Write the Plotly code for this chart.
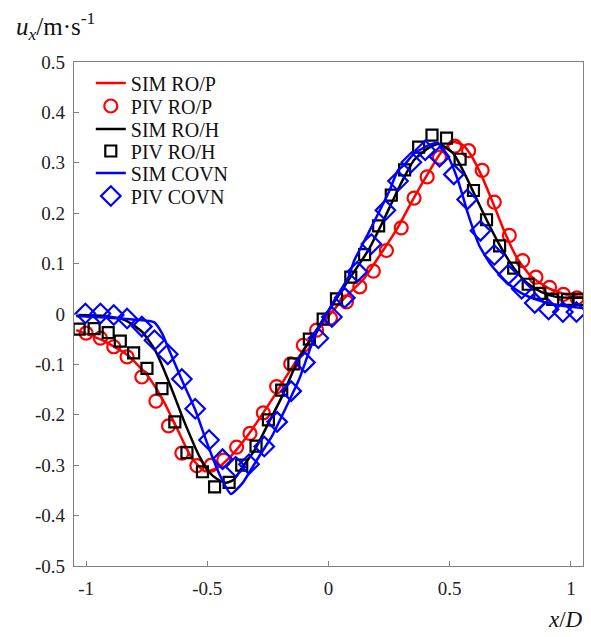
import plotly.graph_objects as go

# ---------------- data ----------------
# SIM RO/P (red line)
sim_rop_x = [-1.041, -0.934, -0.831, -0.749, -0.687, -0.626, -0.564, -0.510, -0.461, -0.399,
             -0.317, -0.235, -0.152, -0.070, 0.000, 0.074, 0.144, 0.218, 0.280, 0.354,
             0.412, 0.465, 0.514, 0.556, 0.588, 0.630, 0.679, 0.728, 0.778, 0.835,
             0.905, 0.984, 1.050]
sim_rop_y = [-0.032, -0.052, -0.081, -0.121, -0.167, -0.226, -0.286, -0.312, -0.306, -0.280,
             -0.230, -0.171, -0.107, -0.048, -0.004, 0.036, 0.069, 0.121, 0.167, 0.232,
             0.280, 0.321, 0.341, 0.335, 0.315, 0.276, 0.220, 0.161, 0.111, 0.075,
             0.052, 0.038, 0.034]

# PIV RO/P (red circles)
piv_rop_x = [-1.000, -0.941, -0.886, -0.831, -0.770, -0.712, -0.660, -0.605, -0.543, -0.484,
             -0.432, -0.379, -0.324, -0.269, -0.214, -0.156, -0.104, -0.049, 0.008, 0.074,
             0.129, 0.185, 0.239, 0.300, 0.353, 0.407, 0.458, 0.521, 0.578, 0.634,
             0.684, 0.746, 0.801, 0.856, 0.912, 0.969, 1.025]
piv_rop_y = [-0.038, -0.048, -0.065, -0.085, -0.125, -0.173, -0.222, -0.276, -0.301, -0.300,
             -0.290, -0.264, -0.237, -0.196, -0.144, -0.099, -0.062, -0.032, -0.008, 0.024,
             0.054, 0.085, 0.126, 0.171, 0.230, 0.272, 0.311, 0.333, 0.324, 0.285,
             0.222, 0.156, 0.106, 0.073, 0.053, 0.039, 0.032]

# SIM RO/H (black line)
sim_roh_x = [-1.041, -0.922, -0.840, -0.770, -0.716, -0.675, -0.634, -0.593, -0.531, -0.490,
             -0.461, -0.424, -0.391, -0.358, -0.305, -0.247, -0.193, -0.123, -0.016, 0.082,
             0.165, 0.218, 0.300, 0.354, 0.412, 0.457, 0.514, 0.560, 0.617, 0.654,
             0.708, 0.765, 0.823, 0.877, 0.938, 1.050]
sim_roh_y = [-0.002, -0.004, -0.012, -0.035, -0.071, -0.115, -0.165, -0.216, -0.284, -0.315,
             -0.327, -0.335, -0.329, -0.306, -0.270, -0.216, -0.165, -0.089, -0.006, 0.067,
             0.127, 0.177, 0.260, 0.306, 0.329, 0.337, 0.319, 0.280, 0.222, 0.185,
             0.135, 0.091, 0.060, 0.044, 0.034, 0.032]

# PIV RO/H (black squares)
piv_roh_x = [-1.029, -0.967, -0.909, -0.859, -0.804, -0.749, -0.687, -0.634, -0.584, -0.520,
             -0.470, -0.410, -0.358, -0.299, -0.248, -0.193, -0.143, -0.079, -0.022, 0.033,
             0.092, 0.149, 0.207, 0.259, 0.314, 0.372, 0.427, 0.487, 0.543, 0.598,
             0.652, 0.706, 0.764, 0.824, 0.872, 0.925, 0.986, 1.034]
piv_roh_y = [-0.030, -0.029, -0.037, -0.054, -0.077, -0.108, -0.148, -0.214, -0.275, -0.313,
             -0.343, -0.334, -0.300, -0.262, -0.210, -0.151, -0.099, -0.050, -0.010, 0.030,
             0.073, 0.118, 0.175, 0.236, 0.286, 0.331, 0.355, 0.349, 0.307, 0.245,
             0.187, 0.135, 0.091, 0.059, 0.041, 0.029, 0.029, 0.029]

# SIM COVN (blue line)
sim_covn_x = [-1.041, -0.852, -0.720, -0.687, -0.658, -0.605, -0.550, -0.498, -0.449, -0.403,
              -0.354, -0.296, -0.235, -0.173, -0.119, -0.058, 0.025, 0.082, 0.107, 0.165,
              0.247, 0.288, 0.313, 0.354, 0.424, 0.453, 0.494, 0.535, 0.576, 0.621,
              0.671, 0.737, 0.794, 0.860, 0.942, 1.050]
sim_covn_y = [-0.004, -0.009, -0.016, -0.038, -0.071, -0.131, -0.190, -0.260, -0.319, -0.357,
              -0.335, -0.290, -0.244, -0.183, -0.127, -0.046, 0.028, 0.073, 0.107, 0.161,
              0.240, 0.286, 0.296, 0.319, 0.337, 0.339, 0.312, 0.264, 0.198, 0.137,
              0.097, 0.062, 0.042, 0.028, 0.018, 0.012]

# PIV COVN (blue diamonds)
piv_covn_x = [-1.003, -0.941, -0.886, -0.831, -0.770, -0.718, -0.663, -0.605, -0.550, -0.493,
              -0.437, -0.383, -0.328, -0.265, -0.212, -0.154, -0.097, -0.042, 0.014, 0.067,
              0.119, 0.177, 0.235, 0.287, 0.342, 0.399, 0.458, 0.517, 0.572, 0.627,
              0.684, 0.741, 0.797, 0.851, 0.908, 0.967, 1.023]
piv_covn_y = [0.001, 0.001, -0.002, -0.009, -0.025, -0.052, -0.080, -0.129, -0.188, -0.250,
              -0.288, -0.303, -0.298, -0.263, -0.214, -0.153, -0.096, -0.048, -0.006, 0.032,
              0.084, 0.139, 0.206, 0.264, 0.301, 0.325, 0.312, 0.277, 0.227, 0.165,
              0.117, 0.078, 0.050, 0.022, 0.009, 0.004, 0.004]

series_names = ["SIM RO/P", "PIV RO/P", "SIM RO/H", "PIV RO/H", "SIM COVN", "PIV COVN"]

x_ticks = [-1, -0.5, 0, 0.5, 1]
x_tick_text = ["-1", "-0.5", "0", "0.5", "1"]
y_ticks = [0.5, 0.4, 0.3, 0.2, 0.1, 0, -0.1, -0.2, -0.3, -0.4, -0.5]
y_tick_text = ["0.5", "0.4", "0.3", "0.2", "0.1", "0", "-0.1", "-0.2", "-0.3", "-0.4", "-0.5"]

# ---------------- figure ----------------
RED, BLACK, BLUE = "#ff0000", "#000000", "#0000ff"
FONT = "Liberation Serif, Times New Roman, serif"
TXT = "#111111"

legend_ids = ["legend", "legend2", "legend3", "legend4", "legend5", "legend6"]

fig = go.Figure()
fig.add_trace(go.Scatter(x=sim_rop_x, y=sim_rop_y, mode="lines", name=series_names[0],
                         legend=legend_ids[0],
                         line=dict(color=RED, width=2.5, shape="spline", smoothing=0.6)))
fig.add_trace(go.Scatter(x=piv_rop_x, y=piv_rop_y, mode="markers", name=series_names[1],
                         legend=legend_ids[1],
                         marker=dict(symbol="circle-open", size=13, color=RED,
                                     line=dict(color=RED, width=2.2))))
fig.add_trace(go.Scatter(x=sim_roh_x, y=sim_roh_y, mode="lines", name=series_names[2],
                         legend=legend_ids[2],
                         line=dict(color=BLACK, width=2.5, shape="spline", smoothing=0.6)))
fig.add_trace(go.Scatter(x=piv_roh_x, y=piv_roh_y, mode="markers", name=series_names[3],
                         legend=legend_ids[3],
                         marker=dict(symbol="square-open", size=11, color=BLACK,
                                     line=dict(color=BLACK, width=2.2))))
fig.add_trace(go.Scatter(x=sim_covn_x, y=sim_covn_y, mode="lines", name=series_names[4],
                         legend=legend_ids[4],
                         line=dict(color=BLUE, width=2.5, shape="spline", smoothing=0.5)))
fig.add_trace(go.Scatter(x=piv_covn_x, y=piv_covn_y, mode="markers", name=series_names[5],
                         legend=legend_ids[5],
                         marker=dict(symbol="diamond-open", size=15, color=BLUE,
                                     line=dict(color=BLUE, width=2.2))))

axis_common = dict(showgrid=False, zeroline=False, showline=True, mirror=True,
                   linecolor="#808080", linewidth=1.3, ticks="inside", ticklen=5,
                   tickcolor="#808080", tickwidth=1,
                   tickfont=dict(family=FONT, size=19, color="#222222"))

# plot area: 74..583 px horizontally, 62..566 px vertically
legend_rows_px = [83, 106, 129, 151, 173, 196]
legends = {}
for lid, py in zip(legend_ids, legend_rows_px):
    legends[lid] = dict(x=0.033, y=(566 - py) / 504, xanchor="left", yanchor="middle",
                        bgcolor="rgba(0,0,0,0)", borderwidth=0,
                        font=dict(family=FONT, size=20, color=TXT))

fig.update_layout(
    width=591, height=637,
    margin=dict(l=74, r=8, t=62, b=71),
    paper_bgcolor="white", plot_bgcolor="white",
    font=dict(family=FONT, size=18, color=TXT),
    showlegend=True,
    xaxis=dict(range=[-1.05, 1.05], tickvals=x_ticks, ticktext=x_tick_text,
               ticklabelstandoff=5, **axis_common),
    yaxis=dict(range=[-0.5, 0.5], tickvals=y_ticks, ticktext=y_tick_text,
               ticklabelstandoff=4, **axis_common),
    annotations=[
        dict(text="<i>u</i><sub><i>x</i></sub>/m·s<sup>-1</sup>", xref="paper", yref="paper",
             x=-0.118, y=1.072, xanchor="left", yanchor="middle", showarrow=False,
             font=dict(family=FONT, size=25, color=TXT)),
        dict(text="<i>x</i>/<i>D</i>", xref="paper", yref="paper",
             x=1.004, y=-0.107, xanchor="right", yanchor="middle", showarrow=False,
             font=dict(family=FONT, size=23, color=TXT)),
    ],
    **legends,
)

fig.write_html("out.html")
